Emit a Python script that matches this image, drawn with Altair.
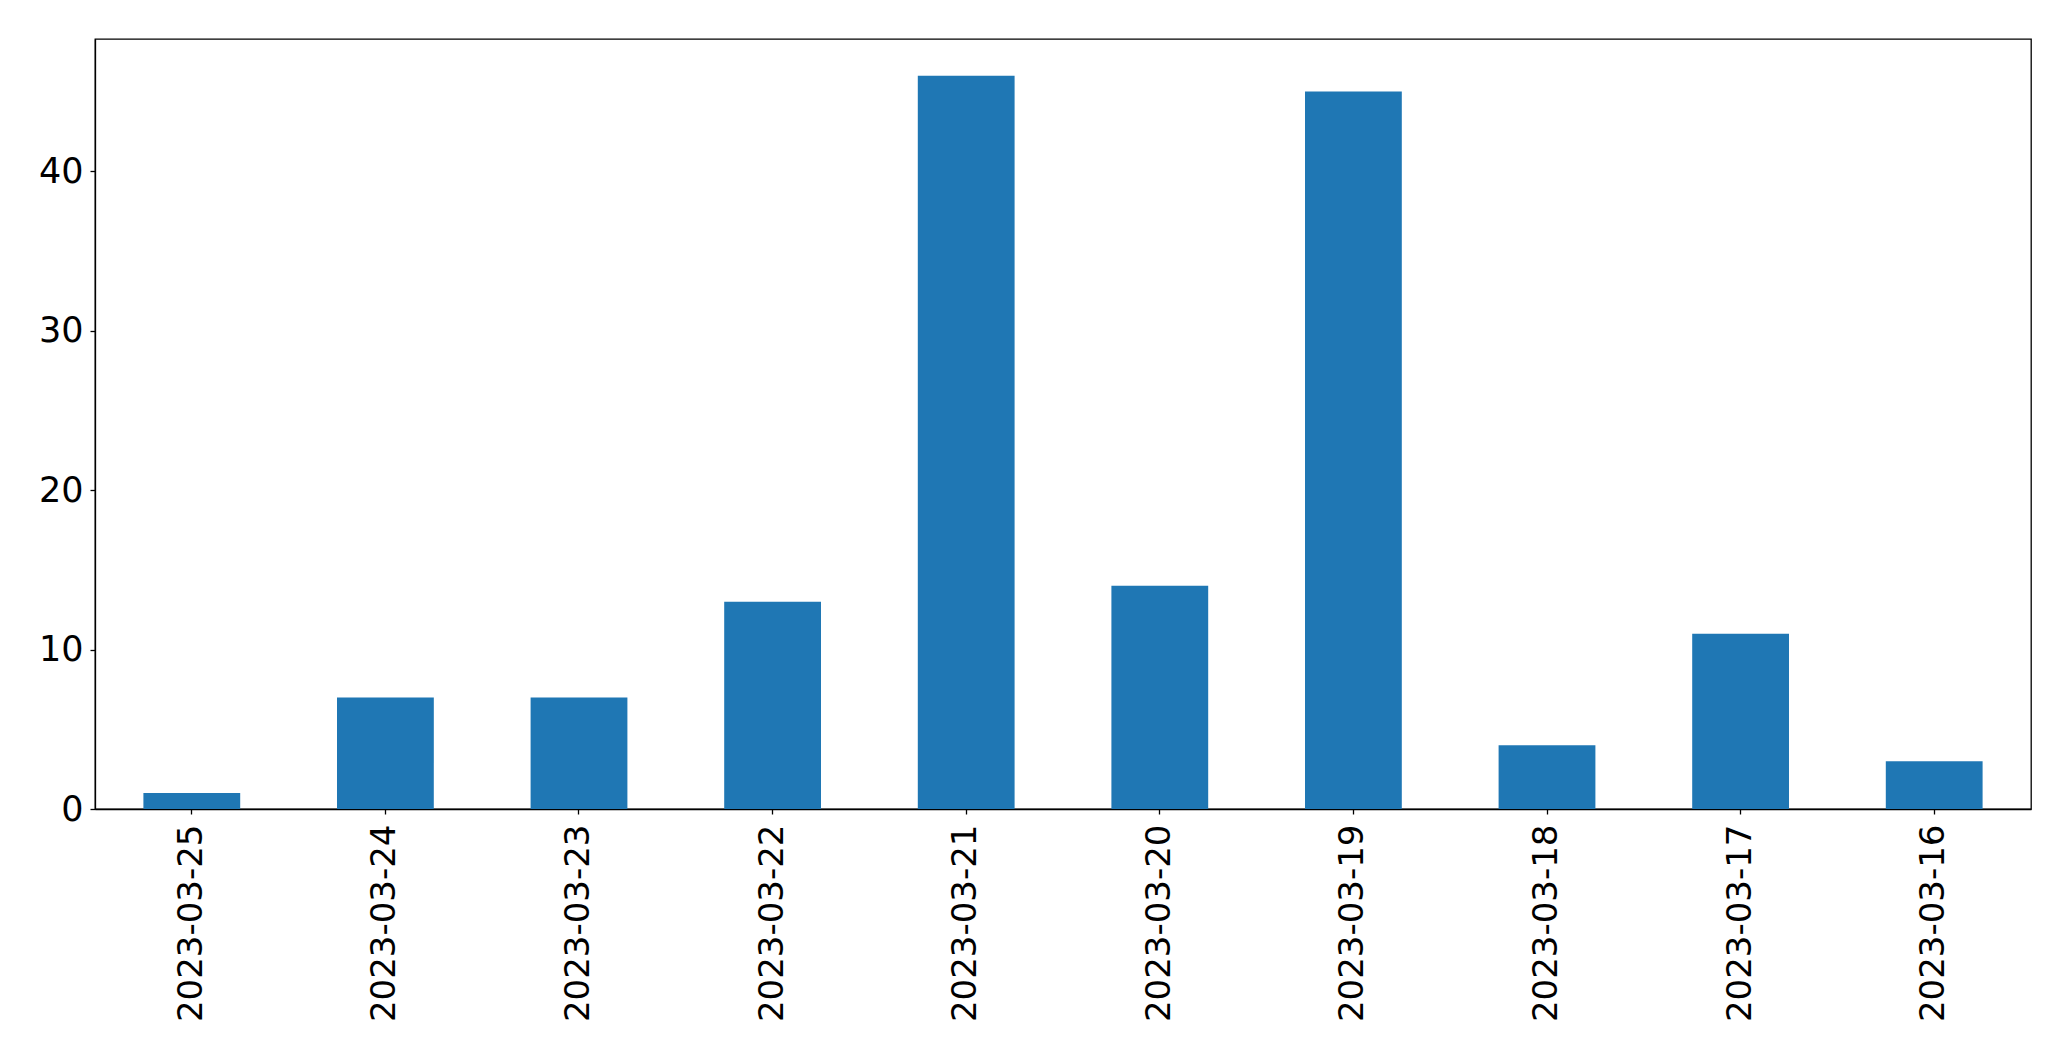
import altair as alt
import pandas as pd

dates = ["2023-03-25", "2023-03-24", "2023-03-23", "2023-03-22", "2023-03-21",
         "2023-03-20", "2023-03-19", "2023-03-18", "2023-03-17", "2023-03-16"]
counts = [1, 7, 7, 13, 46, 14, 45, 4, 11, 3]
y_ticks = [0, 10, 20, 30, 40]

df = pd.DataFrame({"date": dates, "count": counts})

chart = alt.Chart(df).mark_bar(color="#1f77b4").encode(
    x=alt.X("date:N", sort=dates, title=None,
            scale=alt.Scale(paddingInner=0.5, paddingOuter=0.25),
            axis=alt.Axis(labelAngle=270, labelFontSize=34, labelFont="DejaVu Sans",
                          labelColor="black", tickColor="black", domainColor="black",
                          tickSize=5, labelPadding=10, labelLimit=0)),
    y=alt.Y("count:Q", title=None,
            scale=alt.Scale(domain=[0, 48.3], nice=False, zero=True),
            axis=alt.Axis(values=y_ticks, grid=False, labelFontSize=35,
                          labelFont="DejaVu Sans", labelColor="black",
                          tickColor="black", domainColor="black", tickSize=5,
                          labelPadding=7)),
).properties(
    width=1936, height=770,
    autosize=alt.AutoSizeParams(type="none"),
    padding={"left": 87, "top": 31, "right": 24, "bottom": 240},
).configure_view(stroke="black", strokeWidth=1.3).configure_axis(domainWidth=1.3, tickWidth=1.3)

chart.save("out.html", embed_options={"renderer": "svg", "actions": False})
